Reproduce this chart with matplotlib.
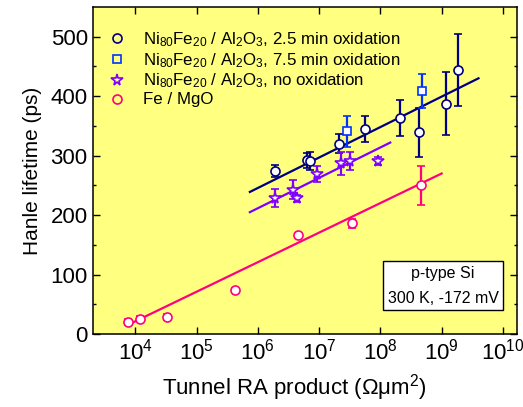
import numpy as np
import matplotlib.pyplot as plt
from matplotlib.lines import Line2D

plt.rcParams['font.family'] = ['Liberation Sans', 'DejaVu Sans']
plt.rcParams['mathtext.default'] = 'regular'

# Ni80Fe20 / Al2O3, 2.5 min oxidation
nife25_x = [1.9e6, 6.3e6, 7.1e6, 2.1e7, 5.6e7, 2.1e8, 4.3e8, 1.2e9, 1.86e9]
nife25_y = [274, 292, 291, 320, 345, 363, 339, 387, 444]
nife25_err = [10, 12, 15, 16, 22, 30, 41, 53, 60]

# Ni80Fe20 / Al2O3, 7.5 min oxidation
nife75_x = [2.8e7, 4.8e8]
nife75_y = [341, 409]
nife75_err = [26, 29]

# Ni80Fe20 / Al2O3, no oxidation
nifeno_x = [1.9e6, 3.8e6, 4.3e6, 9.1e6, 2.3e7, 3.2e7, 9.3e7]
nifeno_y = [229, 243, 228, 269, 287, 291, 291]
nifeno_err = [15, 16, 6, 14, 19, 15, 6]

# Fe / MgO
fe_x = [7.7e3, 1.17e4, 3.3e4, 4.3e5, 4.5e6, 3.5e7, 4.6e8]
fe_y = [20, 26, 29, 74, 167, 186, 250]
fe_err = [5, 4, 5, 4, 2, 7, 33]

# fit lines (end points)
fit_al_x = [7.4e5, 4.0e9]
fit_al_y = [239, 430]
fit_no_x = [7.4e5, 1.45e8]
fit_no_y = [205, 322]
fit_fe_x = [7.7e3, 1.0e9]
fit_fe_y = [16, 270]

navy = '#000080'
blue = '#0033ff'
violet = '#8000ff'
pink = '#ff0080'

fig = plt.figure(figsize=(5.23, 4.07), dpi=100)
ax = fig.add_axes([0.177, 0.179, 0.8115, 0.804])
ax.set_facecolor('#ffff80')

ax.plot(fit_al_x, fit_al_y, color=navy, lw=1.6)
ax.plot(fit_no_x, fit_no_y, color=violet, lw=1.6)
ax.plot(fit_fe_x, fit_fe_y, color=pink, lw=1.6)

eb = dict(ls='none', capsize=3, elinewidth=1.6, capthick=1.6, mfc='white', mew=1.2, ms=6.5)
ax.errorbar(nife25_x, nife25_y, yerr=nife25_err, marker='o', color=navy, **eb)
ax.errorbar(nife75_x, nife75_y, yerr=nife75_err, marker='s', color=blue, **dict(eb, ms=6))
ax.errorbar(nifeno_x, nifeno_y, yerr=nifeno_err, marker='*', color=violet, **dict(eb, ms=8.5))
ax.errorbar(fe_x, fe_y, yerr=fe_err, marker='o', color=pink, **eb)

ax.set_xscale('log')
ax.set_xlim(2e3, 1.7e10)
ax.set_ylim(0, 550)
ax.set_yticks([0, 100, 200, 300, 400, 500])
ax.set_yticks(np.arange(50, 550, 100), minor=True)
ax.set_xticks([1e4, 1e5, 1e6, 1e7, 1e8, 1e9, 1e10])
ax.tick_params(which='both', direction='in', top=True, right=True, labelsize=16, width=1.0)
ax.tick_params(which='major', length=5)
ax.tick_params(which='minor', length=2.5)
for s in ax.spines.values():
    s.set_linewidth(1.1)

ax.set_xlabel('Tunnel RA product (Ωμm$^2$)', fontsize=16, labelpad=4)
ax.xaxis.set_label_coords(0.476, -0.115)
ax.set_ylabel('Hanle lifetime (ps)', fontsize=15, labelpad=6)

handles = [
    Line2D([], [], ls='none', marker='o', color=navy, mfc='none', mew=1.2, ms=6.5),
    Line2D([], [], ls='none', marker='s', color=blue, mfc='none', mew=1.2, ms=6),
    Line2D([], [], ls='none', marker='*', color=violet, mfc='none', mew=1.2, ms=8.5),
    Line2D([], [], ls='none', marker='o', color=pink, mfc='none', mew=1.2, ms=6.5),
]
labels = [
    'Ni$_{80}$Fe$_{20}$ / Al$_2$O$_3$, 2.5 min oxidation',
    'Ni$_{80}$Fe$_{20}$ / Al$_2$O$_3$, 7.5 min oxidation',
    'Ni$_{80}$Fe$_{20}$ / Al$_2$O$_3$, no oxidation',
    'Fe / MgO',
]
ax.legend(handles, labels, loc='upper left', bbox_to_anchor=(0.0, 0.965), frameon=False,
          fontsize=12.2, handlelength=1.5, handletextpad=0.8, labelspacing=0.12,
          borderaxespad=0.3)

ax.text(0.826, 0.148, 'p-type Si\n300 K, -172 mV', transform=ax.transAxes, fontsize=11.5,
        ha='center', va='center', linespacing=1.8,
        bbox=dict(boxstyle='square,pad=0.3', fc='white', ec='black', lw=1.0))

plt.savefig('out.png', dpi=100)
